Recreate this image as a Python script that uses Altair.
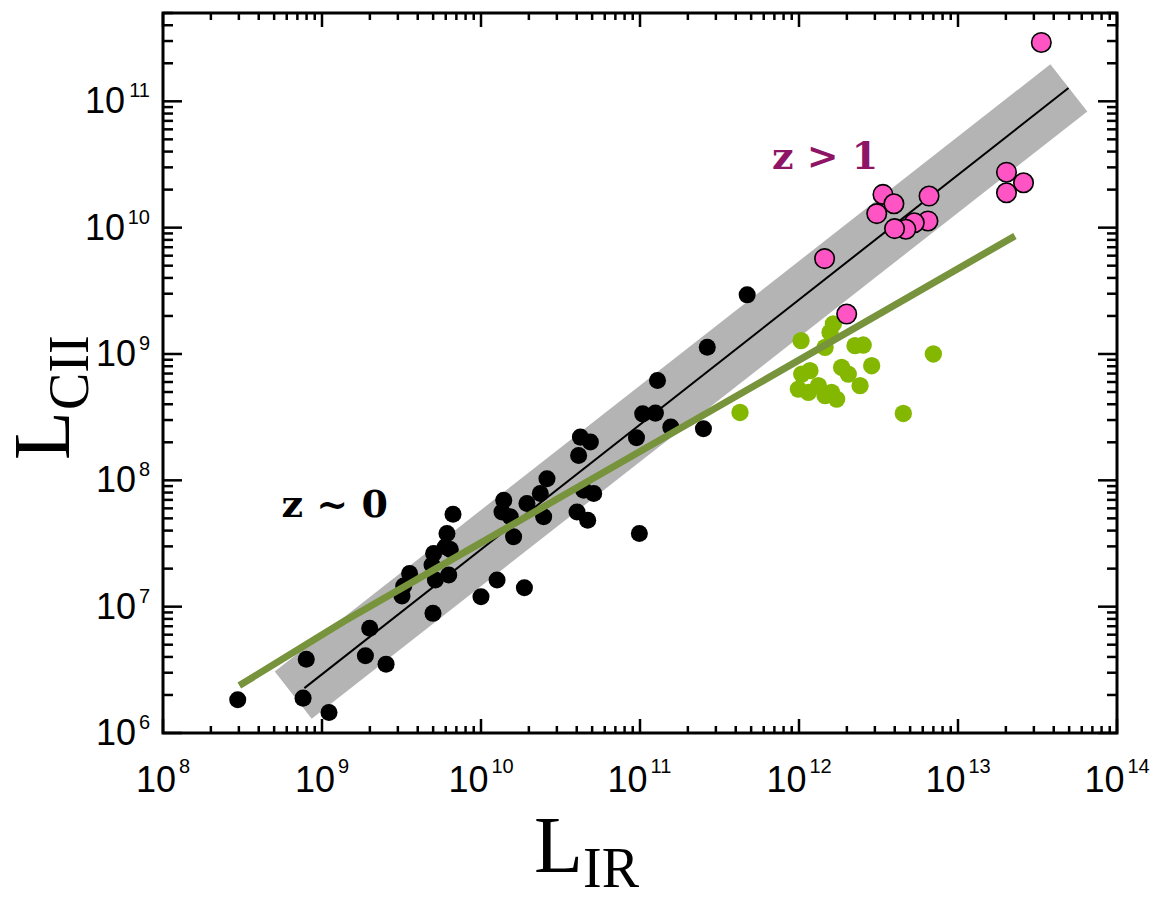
import altair as alt
import pandas as pd

# ---------------- data (log10 values) ----------------
# z ~ 0 galaxies (black)
z0_log_lir = [8.470, 8.901, 8.881, 9.044, 9.300, 9.273, 9.403, 9.514, 9.551, 9.503,
              9.698, 9.702, 9.692, 9.713, 9.776, 9.786, 9.807, 9.797, 9.824, 10.000,
              10.101, 10.273, 10.143, 10.132, 10.184, 10.205, 10.289, 10.373, 10.415, 10.394,
              10.604, 10.614, 10.625, 10.688, 10.646, 10.709, 10.671,
              10.996, 11.399, 10.978, 11.017, 11.097, 11.194, 11.110, 11.423, 11.674]
z0_log_lcii = [6.263, 6.584, 6.276, 6.163, 6.829, 6.611, 6.545, 7.163, 7.263, 7.084,
               6.947, 7.421, 7.329, 7.211, 7.474, 7.579, 7.453, 7.250, 7.732, 7.079,
               7.211, 7.150, 7.842, 7.750, 7.711, 7.553, 7.816, 7.895, 8.013, 7.711,
               7.750, 8.197, 8.342, 8.303, 7.921, 7.895, 7.684,
               7.579, 8.408, 8.337, 8.526, 8.532, 8.421, 8.790, 9.053, 9.468]

# ULIRG-like sample (green)
green_log_lir = [12.013, 12.216, 12.195, 12.164, 12.352, 12.404, 12.457, 12.845, 12.268, 12.310,
                 12.384, 12.017, 12.069, 11.996, 12.059, 12.122, 12.164, 12.237, 12.205, 11.629,
                 12.656]
green_log_lcii = [9.106, 9.238, 9.172, 9.053, 9.066, 9.071, 8.907, 9.000, 8.894, 8.841,
                  8.749, 8.841, 8.868, 8.722, 8.696, 8.749, 8.670, 8.643, 8.696, 8.537,
                  8.529]

# z > 1 galaxies (pink)
pink_log_lir = [13.524, 13.305, 13.412, 13.305, 12.528, 12.597, 12.489, 12.818, 12.811, 12.725,
                12.672, 12.601, 12.161, 12.300]
pink_log_lcii = [11.466, 10.439, 10.355, 10.276, 10.263, 10.189, 10.111, 10.250, 10.053, 10.039,
                 9.987, 9.992, 9.755, 9.316]

# fitted relation (black line) and its scatter band (grey)
fit_log_lir = [8.889, 13.695]
fit_log_lcii = [6.355, 11.105]
band_log_lir = [8.819, 13.697]
band_log_lcii = [6.300, 11.106]

# green relation
gfit_log_lir = [8.480, 9.136, 10.939, 13.358]
gfit_log_lcii = [6.376, 6.882, 8.184, 9.934]

# annotations
note_text = ["z ~ 0", "z > 1"]
note_log_lir = [9.08, 12.164]
note_log_lcii = [7.706, 10.468]
note_color = ["#000000", "#8e1466"]

# axis ticks
x_major_exp = [8, 9, 10, 11, 12, 13, 14]
y_major_exp = [6, 7, 8, 9, 10, 11]
minor_mult = [2, 3, 4, 5, 6, 7, 8, 9]
X_MIN, X_MAX = 1e8, 1e14
Y_MIN, Y_MAX = 1e6, 5e11

W, H = 954, 720

# ---------------- build tables ----------------
def pts(lx, ly):
    return pd.DataFrame({"x": [10 ** v for v in lx], "y": [10 ** v for v in ly]})

df_z0 = pts(z0_log_lir, z0_log_lcii)
df_green = pts(green_log_lir, green_log_lcii)
df_pink = pts(pink_log_lir, pink_log_lcii)
df_fit = pts(fit_log_lir, fit_log_lcii)
df_band = pts(band_log_lir, band_log_lcii)
df_gfit = pts(gfit_log_lir, gfit_log_lcii)
df_note = pd.DataFrame({"x": [10 ** v for v in note_log_lir],
                        "y": [10 ** v for v in note_log_lcii],
                        "t": note_text, "c": note_color})

x_major = pd.DataFrame({"x": [10.0 ** e for e in x_major_exp],
                        "base": ["10"] * len(x_major_exp),
                        "exp": [str(e) for e in x_major_exp],
                        "nd": [len(str(e)) for e in x_major_exp]})
y_major = pd.DataFrame({"y": [10.0 ** e for e in y_major_exp],
                        "base": ["10"] * len(y_major_exp),
                        "exp": [str(e) for e in y_major_exp],
                        "nd": [len(str(e)) for e in y_major_exp]})
x_minor = pd.DataFrame({"x": [k * 10.0 ** e for e in x_major_exp[:-1] for k in minor_mult]})
y_minor = pd.DataFrame({"y": [k * 10.0 ** e for e in y_major_exp for k in minor_mult
                              if k * 10.0 ** e <= Y_MAX]})

xs = alt.Scale(type="log", domain=[X_MIN, X_MAX], nice=False)
ys = alt.Scale(type="log", domain=[Y_MIN, Y_MAX], nice=False)
X = alt.X("x:Q", scale=xs, axis=None)
Y = alt.Y("y:Q", scale=ys, axis=None)

# ---------------- marks ----------------
band = alt.Chart(df_band).mark_line(color="#b4b4b4", strokeWidth=60, strokeCap="butt").encode(x=X, y=Y)
fit = alt.Chart(df_fit).mark_line(color="black", strokeWidth=2).encode(x=X, y=Y)
black_pts = alt.Chart(df_z0).mark_circle(color="black", size=290, opacity=1).encode(x=X, y=Y)
green_pts = alt.Chart(df_green).mark_circle(color="#84b800", size=300, opacity=1).encode(x=X, y=Y)
gfit = alt.Chart(df_gfit).mark_line(color="#77933c", strokeWidth=7, strokeCap="butt").encode(x=X, y=Y)
pink_pts = alt.Chart(df_pink).mark_point(shape="circle", filled=True, fill="#ff55c4", stroke="black",
                                         strokeWidth=1.6, size=380, opacity=1).encode(x=X, y=Y)
notes = alt.Chart(df_note).mark_text(font="DejaVu Serif", fontWeight="bold", fontSize=38,
                                     align="center", baseline="alphabetic").encode(
    x=X, y=Y, text="t:N", color=alt.Color("c:N", scale=None))

# ticks (inward, on all four sides)
tk = dict(color="black", strokeWidth=2.5)
xb_maj = alt.Chart(x_major).mark_rule(**tk).encode(x=X, y=alt.value(H), y2=alt.value(H - 14))
xt_maj = alt.Chart(x_major).mark_rule(**tk).encode(x=X, y=alt.value(0), y2=alt.value(14))
xb_min = alt.Chart(x_minor).mark_rule(**tk).encode(x=X, y=alt.value(H), y2=alt.value(H - 7))
xt_min = alt.Chart(x_minor).mark_rule(**tk).encode(x=X, y=alt.value(0), y2=alt.value(7))
yl_maj = alt.Chart(y_major).mark_rule(**tk).encode(y=Y, x=alt.value(0), x2=alt.value(19))
yr_maj = alt.Chart(y_major).mark_rule(**tk).encode(y=Y, x=alt.value(W), x2=alt.value(W - 19))
yl_min = alt.Chart(y_minor).mark_rule(**tk).encode(y=Y, x=alt.value(0), x2=alt.value(10))
yr_min = alt.Chart(y_minor).mark_rule(**tk).encode(y=Y, x=alt.value(W), x2=alt.value(W - 10))

# tick labels 10^n
LF = "Liberation Sans"
base_fs, exp_fs = 36, 20
xl = []
for nd, dxb, dxe in [(1, 13, 16), (2, 7.5, 10.5)]:
    src = alt.Chart(x_major).transform_filter(alt.datum.nd == nd)
    xl.append(src.mark_text(font=LF, fontSize=base_fs, align="right", baseline="middle", dx=dxb)
              .encode(x=X, y=alt.value(H + 47.5), text="base:N"))
    xl.append(src.mark_text(font=LF, fontSize=exp_fs, align="left", baseline="middle", dx=dxe)
              .encode(x=X, y=alt.value(H + 33.5), text="exp:N"))
yl = []
for nd, xb, xe in [(1, -27, -13), (2, -38, -13)]:
    src = alt.Chart(y_major).transform_filter(alt.datum.nd == nd)
    yl.append(src.mark_text(font=LF, fontSize=base_fs, align="right", baseline="middle", dy=1)
              .encode(y=Y, x=alt.value(xb), text="base:N"))
    yl.append(src.mark_text(font=LF, fontSize=exp_fs, align="right", baseline="middle", dy=-10)
              .encode(y=Y, x=alt.value(xe), text="exp:N"))

# axis titles with subscripts
TF = "Liberation Serif"
def txt(s, x, y, fs, angle=0):
    kw = dict(font=TF, fontSize=fs, align="left", baseline="alphabetic", color="black")
    if angle:
        kw["angle"] = angle
    return alt.Chart(pd.DataFrame({"t": [s]})).mark_text(**kw).encode(
        text="t:N", x=alt.value(x), y=alt.value(y))

titles = [
    txt("L", 371, 859, 80),
    txt("IR", 420, 874, 56),
    txt("L", -94, 447, 80, 270),
    txt("CII", -75, 397, 56, 270),
]

chart = alt.layer(
    band, fit, black_pts, green_pts, gfit, pink_pts, notes,
    xb_maj, xt_maj, xb_min, xt_min, yl_maj, yr_maj, yl_min, yr_min,
    *xl, *yl, *titles
).properties(
    width=W, height=H,
    autosize=alt.AutoSizeParams(type="none"),
    padding={"left": 163, "top": 13, "right": 40, "bottom": 175},
    background="white",
).configure_view(stroke="black", strokeWidth=3)

chart.save("out.html", embed_options={"renderer": "svg", "actions": False})
